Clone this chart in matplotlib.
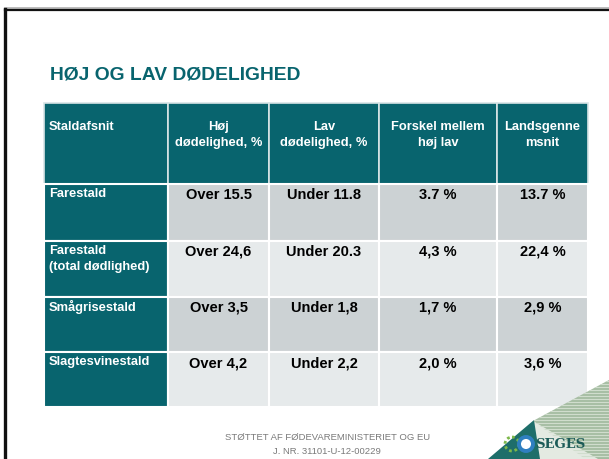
import matplotlib
matplotlib.use("Agg")
import matplotlib.pyplot as plt
from matplotlib.patches import Rectangle, Polygon, Circle
from matplotlib.lines import Line2D

plt.rcParams['font.family'] = ['Liberation Sans', 'DejaVu Sans']

# ---- data ----
title = "HØJ OG LAV DØDELIGHED"
col_headers = ["Staldafsnit", "Høj\ndødelighed, %", "Lav\ndødelighed, %",
               "Forskel mellem\nhøj lav", "Landsgenne\nmsnit"]
row_labels = ["Farestald", "Farestald\n(total dødlighed)", "Smågrisestald", "Slagtesvinestald"]
high_vals = ["Over 15.5", "Over 24,6", "Over 3,5", "Over 4,2"]
low_vals = ["Under 11.8", "Under 20.3", "Under 1,8", "Under 2,2"]
diff_vals = ["3.7 %", "4,3 %", "1,7 %", "2,0 %"]
avg_vals = ["13.7 %", "22,4 %", "2,9 %", "3,6 %"]
footer = ["STØTTET AF FØDEVAREMINISTERIET OG EU", "J. NR. 31101-U-12-00229"]
logo_text = "SEGES"

# ---- layout ----
TEAL = "#08646E"
GRAY_DARK = "#CCD2D4"
GRAY_LIGHT = "#E6EAEB"
col_edges = [44, 168, 269, 379, 497, 588]
row_edges = [103, 184, 241, 297, 352, 407]

fig = plt.figure(figsize=(6.09, 4.59), dpi=100)
ax = fig.add_axes([0, 0, 1, 1])
ax.set_xlim(0, 609)
ax.set_ylim(459, 0)
ax.axis('off')

# frame
ax.add_line(Line2D([5, 609], [8, 8], color="#B0B0B0", lw=1.2))
ax.add_line(Line2D([5, 609], [9.6, 9.6], color="#111111", lw=1.6))
ax.add_line(Line2D([5, 5], [9, 459], color="#111111", lw=2.4))

# title
ax.text(50, 75, title, fontsize=13.9, fontweight='bold', color=TEAL,
        ha='left', va='center')

# table cells
columns = [row_labels, high_vals, low_vals, diff_vals, avg_vals]
nrows = len(row_labels)
for c in range(len(col_edges) - 1):
    x0, x1 = col_edges[c], col_edges[c + 1]
    ax.add_patch(Rectangle((x0, row_edges[0]), x1 - x0, row_edges[1] - row_edges[0],
                           facecolor=TEAL, edgecolor='#D8E4E6', lw=1.2))
    for r in range(nrows):
        y0, y1 = row_edges[r + 1], row_edges[r + 2]
        if c == 0:
            fc = TEAL
        else:
            fc = GRAY_DARK if r % 2 == 0 else GRAY_LIGHT
        ax.add_patch(Rectangle((x0, y0), x1 - x0, y1 - y0, facecolor=fc,
                               edgecolor='white', lw=1.5))

# header texts
for c, h in enumerate(col_headers):
    x0, x1 = col_edges[c], col_edges[c + 1]
    for i, ln in enumerate(h.split("\n")):
        y = 127 + 16 * i
        if c == 0:
            ax.text(x0 + 5, y, ln, fontsize=9.3, fontweight='bold', color='white',
                    ha='left', va='center')
        else:
            ax.text((x0 + x1) / 2, y, ln, fontsize=9.3, fontweight='bold',
                    color='white', ha='center', va='center')

# body texts
for c, vals in enumerate(columns):
    x0, x1 = col_edges[c], col_edges[c + 1]
    for r, v in enumerate(vals):
        ytop = row_edges[r + 1]
        if c == 0:
            for i, ln in enumerate(v.split("\n")):
                ax.text(x0 + 5, ytop + 10 + 16 * i, ln, fontsize=9.3,
                        fontweight='bold', color='white', ha='left', va='center')
        else:
            ax.text((x0 + x1) / 2, ytop + 11, v, fontsize=10.5, fontweight='bold',
                    color='black', ha='center', va='center')

# footer
ax.text(328, 437, footer[0], fontsize=6.8, color='#7A7A7A', ha='center', va='center')
ax.text(327, 452, footer[1], fontsize=6.8, color='#7A7A7A', ha='center', va='center')

# logo decoration
stripe_poly = Polygon([(533, 421), (609, 380), (609, 459), (585, 459)],
                      closed=True, facecolor='#A3BBA0', edgecolor='none')
ax.add_patch(stripe_poly)
for yy in range(381, 459, 3):
    ln = Line2D([520, 609], [yy, yy], color='#D0DDCD', lw=0.9)
    ax.add_line(ln)
    ln.set_clip_path(stripe_poly)
ax.add_patch(Polygon([(533, 421), (598, 459), (528, 459)], closed=True,
                     facecolor='#E4EAE2', edgecolor='none'))
ax.add_patch(Polygon([(488, 459), (534, 420), (540, 459)], closed=True,
                     facecolor='#1E6E6A', edgecolor='none'))
ax.add_patch(Circle((512, 444), 7, facecolor='none', edgecolor='#7DB84A', lw=2,
                    linestyle=(0, (1, 1))))
ax.add_patch(Circle((526, 444), 7, facecolor='white', edgecolor='#2F7FC0', lw=2.8))
ax.text(535, 445, logo_text, fontsize=9.5, fontweight='bold', color='#1D5C58',
        family=['DejaVu Serif'], ha='left', va='center')

fig.savefig("out.png", dpi=100)
